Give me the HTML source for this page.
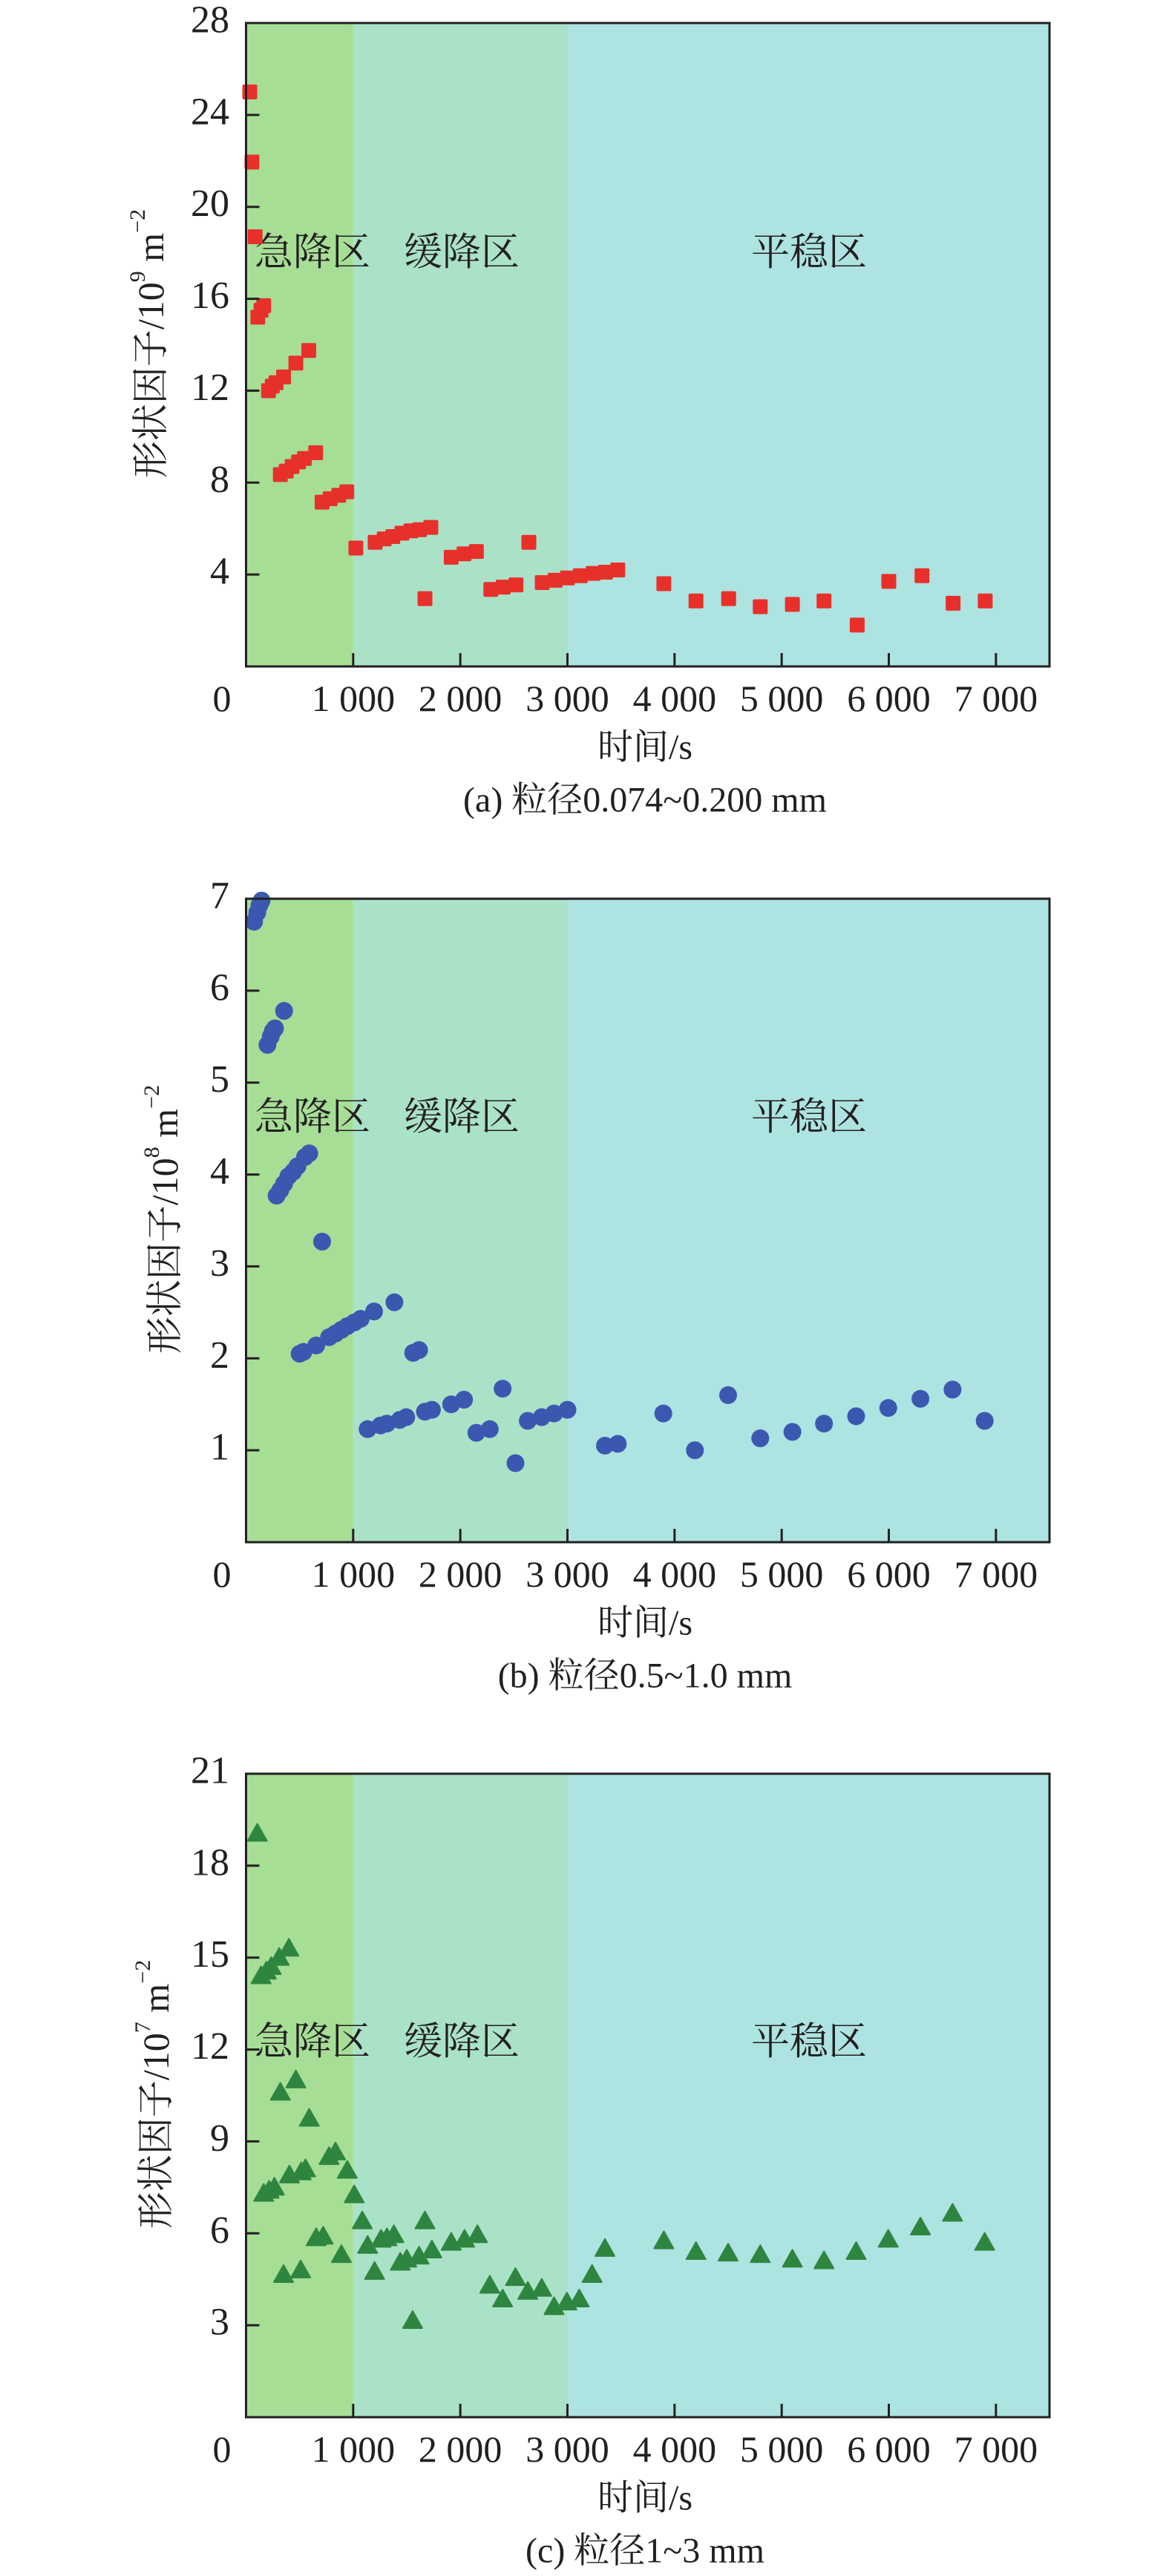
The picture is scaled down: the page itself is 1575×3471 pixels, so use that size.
<!DOCTYPE html>
<html><head><meta charset="utf-8"><style>
html,body{margin:0;padding:0;background:#fff;}
svg{display:block;}
text{font-family:"Liberation Serif","Noto Serif CJK SC","Noto Sans CJK SC",serif;fill:#231f20;}
</style></head><body>
<svg id="fig" width="1575" height="3471" viewBox="0 0 1575 3471" xmlns="http://www.w3.org/2000/svg"></svg>
<script>
// ---- data: chart (a) ----
const aTime=[35,55,85,110,140,165,210,245,280,350,465,585,320,375,430,490,545,650,710,785,865,940,1025,1205,1290,1370,1455,1540,1620,1725,1670,1915,2035,2150,2640,2285,2400,2520,2765,2885,3000,3120,3240,3355,3470,3900,4200,4505,4800,5100,5395,5705,6000,6310,6600,6900];
const aValue=[25.0,21.95,18.7,15.2,15.5,15.7,12.0,12.2,12.35,12.6,13.2,13.75,8.35,8.5,8.7,8.9,9.05,9.3,7.15,7.3,7.45,7.6,5.15,5.4,5.55,5.65,5.8,5.9,5.95,6.05,2.95,4.75,4.9,5.0,5.4,3.35,3.45,3.55,3.65,3.75,3.85,3.95,4.05,4.1,4.2,3.6,2.85,2.95,2.6,2.7,2.85,1.8,3.7,3.95,2.75,2.85];
const aYTicks=[4,8,12,16,20,24,28];
// ---- data: chart (b) ----
const bTime=[75,105,125,145,200,230,250,270,355,285,320,355,395,440,480,550,590,710,500,535,655,775,835,890,945,1010,1070,1195,1385,1560,1615,1135,1255,1315,1435,1495,1670,1735,1915,2035,2150,2275,2395,2515,2630,2760,2875,3000,3350,3470,3895,4190,4500,4800,5100,5395,5695,5995,6295,6595,6895];
const bValue=[6.75,6.85,6.93,6.98,5.41,5.5,5.56,5.59,5.78,3.77,3.83,3.9,3.98,4.03,4.09,4.19,4.23,3.27,2.05,2.07,2.14,2.23,2.27,2.31,2.35,2.39,2.43,2.51,2.61,2.06,2.09,1.23,1.27,1.29,1.33,1.36,1.42,1.44,1.5,1.55,1.19,1.23,1.67,0.86,1.32,1.36,1.4,1.44,1.05,1.07,1.4,1.0,1.6,1.13,1.2,1.29,1.37,1.46,1.56,1.66,1.32];
const bYTicks=[1,2,3,4,5,6,7];
// ---- data: chart (c) ----
const cTime=[105,140,190,235,310,400,165,215,265,320,465,590,405,515,555,350,510,655,720,775,835,945,1010,890,1085,1135,1200,1260,1315,1380,1440,1500,1555,1615,1670,1735,1915,2040,2160,2275,2395,2515,2630,2760,2875,2995,3110,3230,3350,3900,4200,4500,4800,5100,5395,5695,5995,6295,6595,6895];
const cValue=[19.05,14.4,14.55,14.7,15.0,15.3,7.3,7.4,7.5,10.6,11.0,9.75,7.9,8.0,8.1,4.65,4.8,5.85,5.9,8.5,8.65,8.05,7.25,5.3,6.4,5.6,4.75,5.8,5.85,5.95,5.05,5.15,3.15,5.25,6.4,5.45,5.7,5.8,5.95,4.3,3.85,4.55,4.1,4.2,3.6,3.75,3.85,4.65,5.5,5.75,5.4,5.35,5.3,5.15,5.1,5.4,5.8,6.2,6.65,5.7];
const cYTicks=[3,6,9,12,15,18,21];
const xTicks=[1000,2000,3000,4000,5000,6000,7000];
const xTickLabels=["1 000","2 000","3 000","4 000","5 000","6 000","7 000"];
const regionBounds=[0,1000,3000,7500];
const regionNames=["急降区","缓降区","平稳区"];

const NS="http://www.w3.org/2000/svg";
const svg=document.getElementById('fig');
function mk(tag,attrs,parent){const e=document.createElementNS(NS,tag);for(const k in attrs)e.setAttribute(k,attrs[k]);(parent||svg).appendChild(e);return e;}

function chart(cfg){
  const L=331.5,R=1414,T=cfg.top,B=cfg.top+867;
  const xs=t=>L+(t/7500)*(R-L);
  const ys=v=>B-(v/cfg.ymax)*(B-T);
  const g=mk('g',{});
  
  
  const cols=['#a6de96','#aae2c8','#ade3e1'];
  for(let i=0;i<3;i++){
    const r=mk('rect',{x:xs(regionBounds[i]),y:T,width:xs(regionBounds[i+1])-xs(regionBounds[i]),height:B-T,fill:cols[i]},g);
    
    
  }
  const lx=[421,622,1090];
  for(let i=0;i<3;i++){
    const t=mk('text',{x:lx[i],y:cfg.regionY,'font-size':52,'text-anchor':'middle','dominant-baseline':'central'},g);
    t.textContent=regionNames[i];
    
    
  }
  const mg=mk('g',{fill:cfg.color},g);
  
  
  for(let i=0;i<cfg.tx.length;i++){
    const cx=xs(cfg.tx[i]),cy=ys(cfg.vy[i]);
    let m;
    if(cfg.shape==='sq') m=mk('rect',{x:cx-10,y:cy-10,width:20,height:20,rx:2},mg);
    else if(cfg.shape==='ci') m=mk('circle',{cx:cx,cy:cy,r:12},mg);
    else m=mk('path',{d:`M${cx} ${cy-13}L${cx+13} ${cy+10}L${cx-13} ${cy+10}Z`,'stroke':cfg.color,'stroke-width':2,'stroke-linejoin':'round'},mg);
    
    
  }
  const f=mk('rect',{x:L,y:T,width:R-L,height:B-T,fill:'none',stroke:'#231f20','stroke-width':3},g);
  
  
  for(let i=0;i<xTicks.length;i++){
    const x=xs(xTicks[i]);
    const tk=mk('line',{x1:x,x2:x,y1:B,y2:B-18,stroke:'#231f20','stroke-width':3},g);
    
    
    const tl=mk('text',{x:x,y:B+43,'font-size':50,'text-anchor':'middle','dominant-baseline':'central'},g);
    tl.textContent=xTickLabels[i];
    
    
  }
  const z=mk('text',{x:299,y:B+43,'font-size':50,'text-anchor':'middle','dominant-baseline':'central'},g);
  z.textContent='0';
  
  
  for(const v of cfg.yt){
    const y=ys(v);
    if(v<cfg.ymax){
      const tk=mk('line',{x1:L,x2:L+18,y1:y,y2:y,stroke:'#231f20','stroke-width':3},g);
      
      
    }
    const tl=mk('text',{x:309,y:y-4,'font-size':52,'text-anchor':'end','dominant-baseline':'central'},g);
    tl.textContent=String(v);
    
    
  }
  const yl=mk('text',{x:0,y:0,'font-size':50,'text-anchor':'middle','dominant-baseline':'central',transform:`translate(${cfg.ylx},${T+432}) rotate(-90)`},g);
  yl.innerHTML='形状因子/10<tspan font-size="30" dy="-18">'+cfg.exp+'</tspan><tspan dy="18"> m</tspan><tspan font-size="30" dy="-18">−2</tspan>';
  
  
  const xl=mk('text',{x:869,y:B+109,'font-size':48,'text-anchor':'middle','dominant-baseline':'central'},g);
  xl.textContent='时间/s';
  
  
  const cp=mk('text',{x:869,y:B+180,'font-size':48,'text-anchor':'middle','dominant-baseline':'central'},g);
  cp.textContent=cfg.caption;
  
  
}
chart({name:'chart-a',top:31,ymax:28,yt:aYTicks,tx:aTime,vy:aValue,shape:'sq',color:'#e8302a',exp:'9',regionY:341,ylx:203,caption:'(a) 粒径0.074~0.200 mm'});
chart({name:'chart-b',top:1211,ymax:7,yt:bYTicks,tx:bTime,vy:bValue,shape:'ci',color:'#3b58b0',exp:'8',regionY:1506,ylx:222,caption:'(b) 粒径0.5~1.0 mm'});
chart({name:'chart-c',top:2390,ymax:21,yt:cYTicks,tx:cTime,vy:cValue,shape:'tr',color:'#2e8540',exp:'7',regionY:2752,ylx:210,caption:'(c) 粒径1~3 mm'});
</script>
</body></html>
